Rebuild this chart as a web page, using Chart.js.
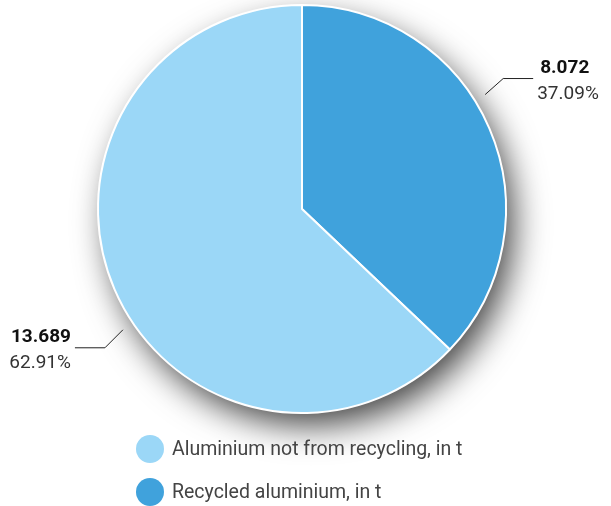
<!DOCTYPE html>
<html>
  <script src="https://cdn.jsdelivr.net/npm/chart.js@4.4.0/dist/chart.umd.min.js"></script>
  <body style="margin:0;background:#fff">
    <div style="width:611px;height:506px">
      <canvas id="pieChart" width="611" height="506"></canvas>
    </div>
    <script>
      // data (clockwise from top)
      var labels = ["Recycled aluminium, in t", "Aluminium not from recycling, in t"];
      var values = [8072, 13689];
      var valueText = ["8.072", "13.689"];
      var colors = ["#40a2dc", "#9bd7f7"];
      var legendOrder = [1, 0];

      var total = values[0] + values[1];

      function pct(v) {
        return (v / total * 100).toFixed(2) + "%";
      }

      // soft shadow under the pie
      var shadowPlugin = {
        id: "shadow",
        beforeDraw: function (chart) {
          var arc = chart.getDatasetMeta(0).data[0];
          if (!arc) return;
          var ctx = chart.ctx;
          ctx.save();
          ctx.shadowColor = "rgba(0,0,0,0.75)";
          ctx.shadowBlur = 34;
          ctx.shadowOffsetX = 9;
          ctx.shadowOffsetY = 14;
          ctx.fillStyle = "#fff";
          ctx.beginPath();
          ctx.arc(arc.x, arc.y, arc.outerRadius - 2, 0, Math.PI * 2);
          ctx.fill();
          ctx.restore();
        }
      };

      // value labels with leader lines + legend
      var labelPlugin = {
        id: "labels",
        afterDraw: function (chart) {
          var ctx = chart.ctx;
          var arc = chart.getDatasetMeta(0).data[0];
          var cx = arc.x, cy = arc.y;
          var r = arc.outerRadius + 12;
          // angle from top (deg, clockwise), side
          var spots = [
            { i: 0, ang: 58, side: 1 },
            { i: 1, ang: 236, side: -1 }
          ];
          ctx.save();
          ctx.strokeStyle = "#222";
          ctx.lineWidth = 1;
          spots.forEach(function (s) {
            var a = s.ang * Math.PI / 180;
            var x0 = cx + r * Math.sin(a);
            var y0 = cy - r * Math.cos(a);
            var x1 = x0 + s.side * 18;
            var y1 = y0 + (s.side > 0 ? -16 : 18);
            var x2 = x1 + s.side * 30;
            ctx.beginPath();
            ctx.moveTo(x0, y0);
            ctx.lineTo(x1, y1);
            ctx.lineTo(x2, y1);
            ctx.stroke();
            var tx = s.side > 0 ? x2 + 4 : x2 - 4;
            ctx.textAlign = s.side > 0 ? "left" : "right";
            ctx.textBaseline = "alphabetic";
            ctx.fillStyle = "#111";
            ctx.font = "bold 19px Roboto";
            ctx.fillText(valueText[s.i], tx + (s.side > 0 ? 3 : 0), y1 - 6);
            ctx.fillStyle = "#333";
            ctx.font = "19px Roboto";
            ctx.fillText(pct(values[s.i]), tx, y1 + 20);
          });

          // legend
          var lx = 150, ly = 449;
          legendOrder.forEach(function (i, k) {
            var y = ly + k * 43;
            ctx.fillStyle = colors[i];
            ctx.beginPath();
            ctx.arc(lx, y, 14, 0, Math.PI * 2);
            ctx.fill();
            ctx.fillStyle = "#444";
            ctx.font = "19.5px Roboto";
            ctx.textAlign = "left";
            ctx.textBaseline = "middle";
            ctx.fillText(labels[i], lx + 22, y + 1);
          });
          ctx.restore();
        }
      };

      new Chart("pieChart", {
        type: "pie",
        data: {
          labels: labels,
          datasets: [{
            data: values,
            backgroundColor: colors,
            borderColor: "#fff",
            borderWidth: 2
          }]
        },
        options: {
          responsive: false,
          animation: false,
          rotation: 0,
          layout: { padding: { top: 4, bottom: 92, left: 0, right: 7 } },
          plugins: {
            legend: { display: false },
            tooltip: { enabled: false }
          }
        },
        plugins: [shadowPlugin, labelPlugin]
      });
    </script>
  </body>
</html>
